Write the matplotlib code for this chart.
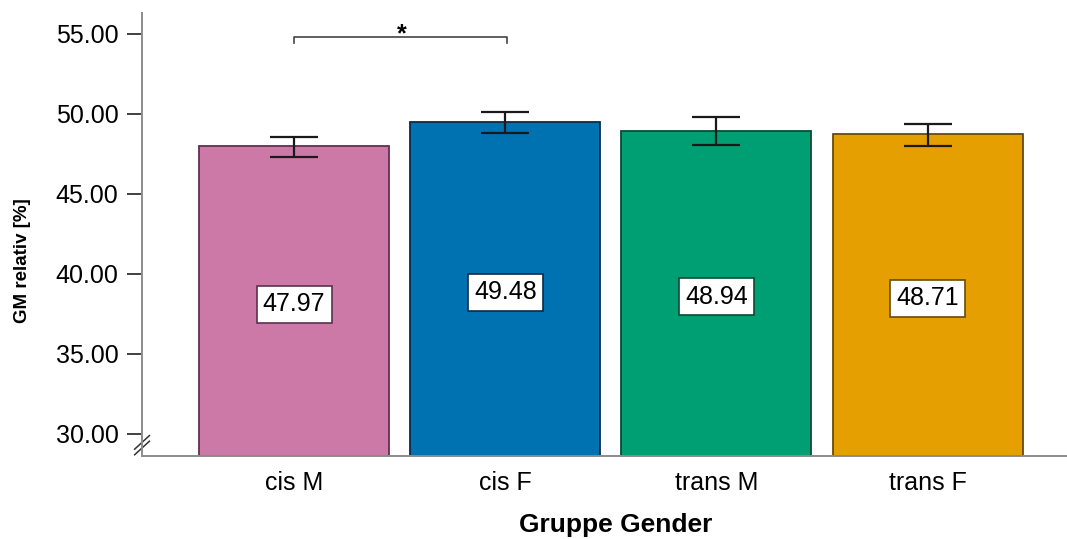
import matplotlib
matplotlib.use("Agg")
import matplotlib.pyplot as plt

plt.rcParams["font.family"] = ["Liberation Sans", "DejaVu Sans"]

groups = ["cis M", "cis F", "trans M", "trans F"]
means = [47.97, 49.48, 48.94, 48.71]
err_low = [0.66, 0.70, 0.92, 0.73]
err_high = [0.57, 0.64, 0.85, 0.65]
fills = ["#CC79A7", "#0072B2", "#009E73", "#E69F00"]
edges = ["#5E3050", "#0D2A45", "#0A4A36", "#6A4A0A"]
yticks = [30, 35, 40, 45, 50, 55]
ymin, ymax = 28.625, 56.3

fig = plt.figure(figsize=(10.67, 5.39), dpi=100)
ax = fig.add_axes([0.1331, 0.154, 0.8669, 0.822])

x = list(range(len(groups)))
ax.bar(x, [m - ymin for m in means], width=0.9, bottom=ymin,
       color=fills, edgecolor=edges, linewidth=1.3, zorder=2)
ax.errorbar(x, means, yerr=[err_low, err_high], fmt="none",
            ecolor="#1a1a1a", elinewidth=1.6, capsize=17.5, capthick=1.6, zorder=3)

# value labels in white boxes, roughly in the middle of each bar
for xi, m, ec in zip(x, means, edges):
    ax.text(xi, (ymin + m) / 2 - 0.2, f"{m:.2f}", ha="center", va="center",
            fontsize=18, color="black", zorder=4,
            bbox=dict(boxstyle="square,pad=0.25", fc="white", ec=ec, lw=1.2))

# significance bracket between cis M and cis F
ax.plot([0, 0, 1.01, 1.01], [54.44, 54.77, 54.77, 54.44],
        color="#444444", lw=1.2, clip_on=False)
ax.text(0.51, 54.55, "*", ha="center", va="baseline", fontsize=18, fontweight="bold")

ax.set_xlim(-0.72, 3.66)
ax.set_ylim(ymin, ymax)
ax.set_xticks(x)
ax.set_xticklabels(groups, fontsize=18)
ax.set_yticks(yticks)
ax.set_yticklabels([f"{t:.2f}" for t in yticks], fontsize=18)
ax.tick_params(axis="x", length=0, pad=11)
ax.tick_params(axis="y", length=11, width=1.3, color="#333333", pad=6)

for side in ("top", "right"):
    ax.spines[side].set_visible(False)
for side in ("left", "bottom"):
    ax.spines[side].set_color("#8c8c8c")
    ax.spines[side].set_linewidth(1.4)

# axis break marks at the bottom of the y axis
for dy in (0.0, 0.35):
    ax.plot([-0.755, -0.685], [29.55 + dy - 0.85, 29.55 + dy],
            color="#333333", lw=1.1, clip_on=False)

ax.set_xlabel("Gruppe Gender", fontsize=19, fontweight="bold", va="center")
ax.xaxis.set_label_coords(0.512, -0.155)
ax.set_ylabel("GM relativ [%]", fontsize=13.5, fontweight="bold", va="center")
ax.yaxis.set_label_coords(-0.1297, 0.44)

fig.savefig("out.png", dpi=100)
